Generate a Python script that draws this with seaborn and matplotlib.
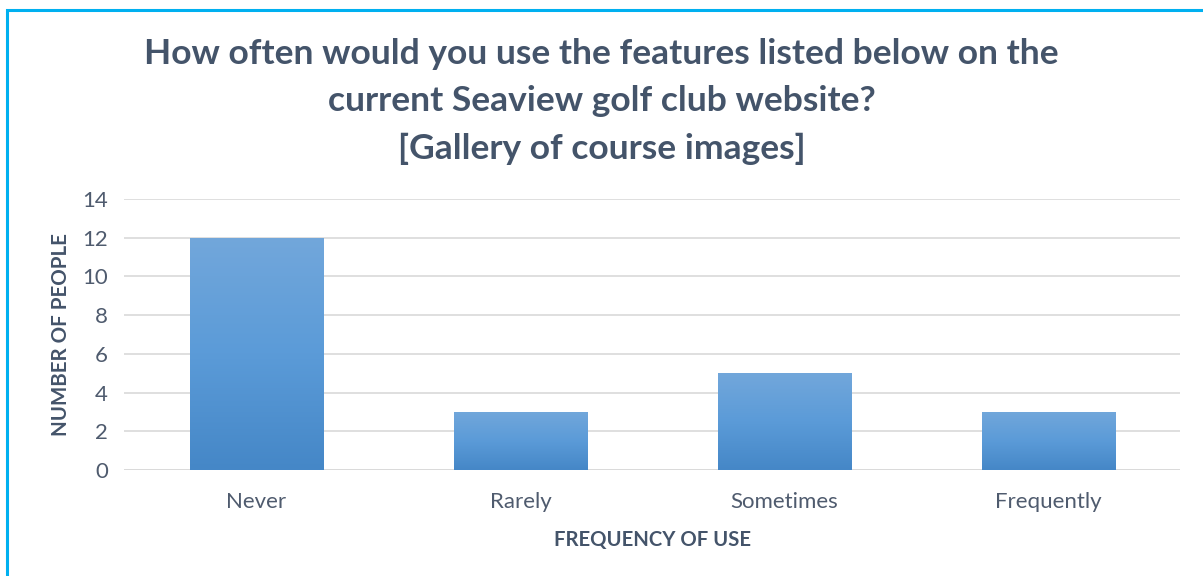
import numpy as np
import pandas as pd
import seaborn as sns
import matplotlib.pyplot as plt
from matplotlib.patches import Rectangle
from matplotlib.colors import LinearSegmentedColormap

# datos
categorias = ["Never", "Rarely", "Sometimes", "Frequently"]
personas = [12, 3, 5, 3]
y_ticks = [0, 2, 4, 6, 8, 10, 12, 14]

titulo = ("How often would you use the features listed below on the\n"
          "current Seaview golf club website?\n"
          "[Gallery of course images]")

df = pd.DataFrame({"Frecuencia": categorias, "Personas": personas})

sns.set_style("white")
plt.rcParams['font.family'] = ['Lato', 'DejaVu Sans']
texto = "#44546A"

fig = plt.figure(figsize=(12.03, 5.76), dpi=100)
ax = fig.add_axes([124.5 / 1203, 1 - 470 / 576, 1056 / 1203, 271 / 576])

sns.barplot(data=df, x="Frecuencia", y="Personas", color="#5B9BD5",
            width=0.505, ax=ax, zorder=3)

# degradado vertical en cada barra
cmap = LinearSegmentedColormap.from_list("azul", ["#4587C7", "#5B9BD8", "#72A7DB"])
grad = np.linspace(0, 1, 256).reshape(-1, 1)
for p in ax.patches:
    x0, y0 = p.get_x(), p.get_y()
    w, h = p.get_width(), p.get_height()
    im = ax.imshow(grad, extent=[x0, x0 + w, y0, y0 + h], origin="lower",
                   cmap=cmap, aspect="auto", zorder=3)
    im.set_clip_path(p)
    p.set_facecolor("none")
    p.set_edgecolor("none")

ax.set_xlim(-0.5, 3.5)
ax.set_ylim(0, 14)
ax.set_yticks(y_ticks)
ax.yaxis.grid(True, color="#D9D9D9", linewidth=1.2, zorder=0)
ax.set_axisbelow(True)
for s in ax.spines.values():
    s.set_visible(False)
ax.axhline(0, color="#D9D9D9", linewidth=1.2, zorder=1)

ax.tick_params(axis="both", length=0, labelsize=16, labelcolor="#4F5B6E")
ax.tick_params(axis="x", pad=16)
ax.tick_params(axis="y", pad=12)
ax.set_xlabel("FREQUENCY OF USE", fontsize=14.6, fontweight="bold", color=texto, labelpad=13)
ax.set_ylabel("NUMBER OF PEOPLE", fontsize=14.8, fontweight="bold", color=texto, labelpad=8)

fig.text(0.5, 1 - 101.5 / 576, titulo, ha="center", va="center", fontsize=25.5,
         fontweight="bold", color=texto, linespacing=1.57)

# borde azul del recuadro
fig.patches.append(Rectangle((6.5 / 1203, -0.05), 1.1, 1 - 9.5 / 576 + 0.05,
                             transform=fig.transFigure, fill=False,
                             edgecolor="#00B0F0", linewidth=2.2))

fig.savefig("out.png", dpi=100)
